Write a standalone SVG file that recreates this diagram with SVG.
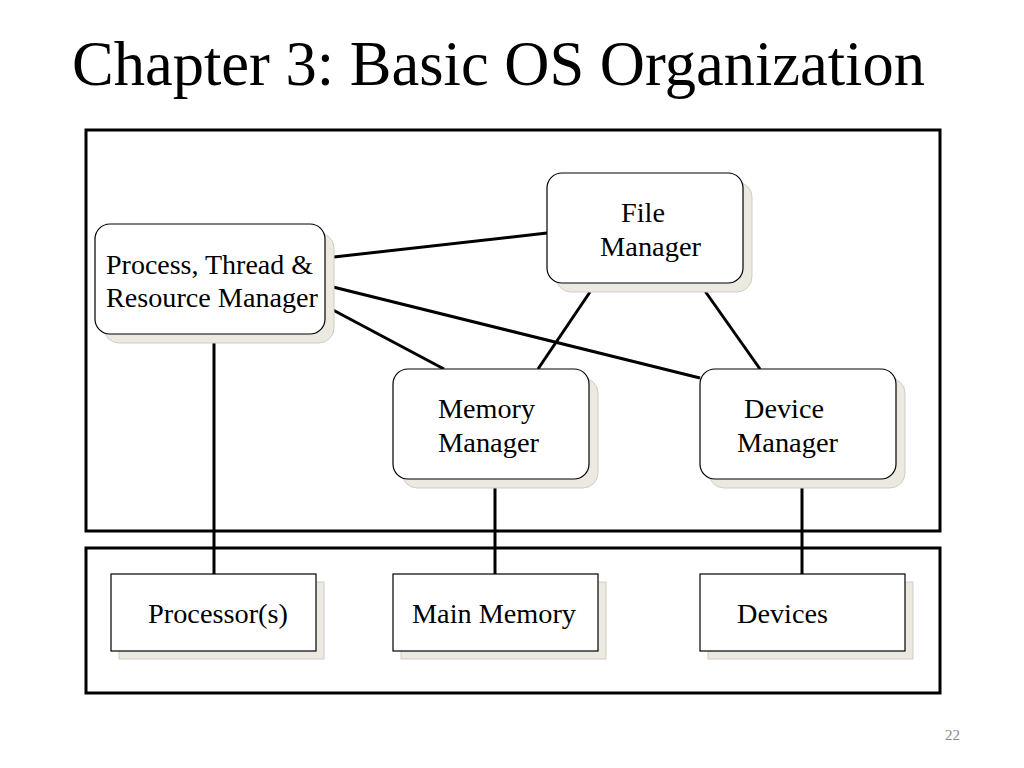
<svg xmlns="http://www.w3.org/2000/svg" width="1024" height="768" viewBox="0 0 1024 768">
<style>
text{font-family:"Liberation Serif","Times New Roman",serif;fill:#000}
.lbl{font-size:28px}
.frame{fill:none;stroke:#000;stroke-width:3}
.shadow{fill:#ECEAE0;stroke:#D0CEC4;stroke-width:1}
.node{fill:#fff;stroke:#000;stroke-width:1.2}
.conn line{stroke:#000;stroke-width:3}
</style>
<rect width="1024" height="768" fill="#fff"/>
<text x="72" y="85" font-size="63" textLength="853" lengthAdjust="spacingAndGlyphs">Chapter 3: Basic OS Organization</text>
<rect class="frame" x="86" y="130" width="854" height="401"/>
<rect class="frame" x="86" y="548" width="854" height="145"/>
<g class="conn" id="connectors">
<line x1="325" y1="258" x2="547" y2="233"/>
<line x1="325" y1="285" x2="700" y2="378"/>
<line x1="333" y1="310" x2="444" y2="369"/>
<line x1="590" y1="292" x2="538" y2="369"/>
<line x1="700" y1="284" x2="760" y2="369"/>
<line x1="214" y1="334" x2="214" y2="574"/>
<line x1="495" y1="479" x2="495" y2="574"/>
<line x1="802" y1="479" x2="802" y2="574"/>
</g>
<g id="process">
<rect class="shadow" x="104" y="233" width="230" height="110" rx="15"/>
<rect class="node" x="95" y="224" width="230" height="110" rx="15"/>
<text class="lbl" x="106" y="274" textLength="207" lengthAdjust="spacingAndGlyphs">Process, Thread &amp;</text>
<text class="lbl" x="106" y="307" textLength="212" lengthAdjust="spacingAndGlyphs">Resource Manager</text>
</g>
<g id="file">
<rect class="shadow" x="556" y="182" width="196" height="110" rx="15"/>
<rect class="node" x="547" y="173" width="196" height="110" rx="15"/>
<text class="lbl" x="621" y="222" textLength="44" lengthAdjust="spacingAndGlyphs">File</text>
<text class="lbl" x="600" y="256" textLength="101" lengthAdjust="spacingAndGlyphs">Manager</text>
</g>
<g id="memory">
<rect class="shadow" x="402" y="378" width="196" height="110" rx="15"/>
<rect class="node" x="393" y="369" width="196" height="110" rx="15"/>
<text class="lbl" x="438" y="418" textLength="97" lengthAdjust="spacingAndGlyphs">Memory</text>
<text class="lbl" x="438" y="452" textLength="101" lengthAdjust="spacingAndGlyphs">Manager</text>
</g>
<g id="device">
<rect class="shadow" x="709" y="378" width="196" height="110" rx="15"/>
<rect class="node" x="700" y="369" width="196" height="110" rx="15"/>
<text class="lbl" x="744" y="418" textLength="80" lengthAdjust="spacingAndGlyphs">Device</text>
<text class="lbl" x="737" y="452" textLength="101" lengthAdjust="spacingAndGlyphs">Manager</text>
</g>
<g id="processors">
<rect class="shadow" x="119" y="582" width="205" height="77"/>
<rect class="node" x="111" y="574" width="205" height="77"/>
<text class="lbl" x="148" y="623" textLength="140" lengthAdjust="spacingAndGlyphs">Processor(s)</text>
</g>
<g id="mainmemory">
<rect class="shadow" x="401" y="582" width="205" height="77"/>
<rect class="node" x="393" y="574" width="205" height="77"/>
<text class="lbl" x="412" y="623" textLength="164" lengthAdjust="spacingAndGlyphs">Main Memory</text>
</g>
<g id="devices">
<rect class="shadow" x="708" y="582" width="205" height="77"/>
<rect class="node" x="700" y="574" width="205" height="77"/>
<text class="lbl" x="737" y="623" textLength="91" lengthAdjust="spacingAndGlyphs">Devices</text>
</g>
<text x="945" y="740" font-size="15" style="fill:#888">22</text>
</svg>
